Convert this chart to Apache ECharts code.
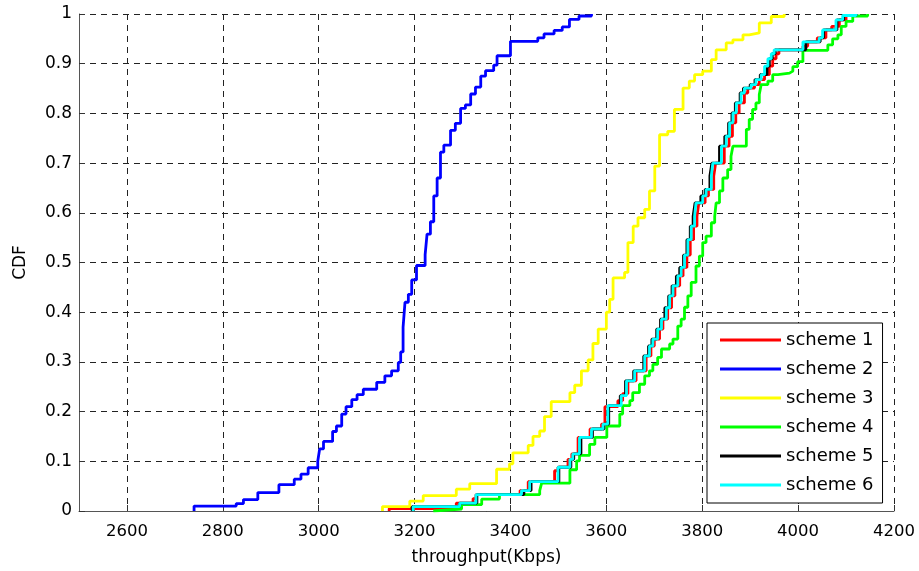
<!DOCTYPE html>
<html>
<head>
<meta charset="utf-8">
<script src="https://cdn.jsdelivr.net/npm/echarts@6/dist/echarts.min.js"></script>
<style>
  html, body { margin: 0; padding: 0; background: #fff; }
  #chart { width: 919px; height: 571px; }
</style>
</head>
<body>
<div id="chart"></div>
<script>
// ---- data (throughput Kbps, CDF) ----
const seriesNames = ['scheme 1', 'scheme 2', 'scheme 3', 'scheme 4', 'scheme 5', 'scheme 6'];
const xTicks = [2600, 2800, 3000, 3200, 3400, 3600, 3800, 4000, 4200];
const yTicks = [0, 0.1, 0.2, 0.3, 0.4, 0.5, 0.6, 0.7, 0.8, 0.9, 1];

const scheme1 = [[3147,0],[3147,0.005],[3287,0.016],[3322,0.025],[3328,0.033],[3420,0.041],[3437,0.059],[3492,0.081],[3499,0.088],[3520,0.104],[3528,0.115],[3541,0.148],[3566,0.165],[3590,0.175],[3597,0.21],[3624,0.222],[3634,0.236],[3645,0.262],[3662,0.282],[3683,0.312],[3693,0.332],[3700,0.346],[3711,0.366],[3718,0.386],[3728,0.409],[3736,0.433],[3743,0.453],[3753,0.473],[3760,0.49],[3768,0.515],[3775,0.546],[3782,0.573],[3789,0.593],[3793,0.62],[3806,0.634],[3813,0.647],[3824,0.674],[3828,0.70],[3846,0.734],[3856,0.754],[3863,0.781],[3870,0.801],[3877,0.821],[3888,0.841],[3895,0.851],[3909,0.858],[3919,0.868],[3930,0.878],[3940,0.895],[3947,0.91],[3954,0.92],[3960,0.928],[4010,0.935],[4020,0.944],[4040,0.952],[4058,0.968],[4070,0.975],[4086,0.988],[4100,0.997],[4121,1]];

const scheme2 = [[2740,0],[2740,0.01],[2828,0.015],[2843,0.023],[2873,0.037],[2917,0.053],[2949,0.064],[2963,0.074],[2978,0.087],[2998,0.1],[3002,0.125],[3010,0.14],[3029,0.16],[3037,0.171],[3048,0.195],[3057,0.21],[3069,0.224],[3080,0.234],[3093,0.245],[3121,0.259],[3138,0.272],[3152,0.282],[3166,0.299],[3171,0.32],[3176,0.37],[3180,0.42],[3187,0.436],[3194,0.465],[3204,0.494],[3222,0.516],[3226,0.557],[3233,0.582],[3240,0.634],[3247,0.67],[3254,0.722],[3261,0.736],[3275,0.766],[3285,0.78],[3296,0.81],[3306,0.817],[3317,0.839],[3327,0.853],[3338,0.875],[3348,0.886],[3365,0.897],[3372,0.916],[3400,0.945],[3457,0.952],[3470,0.96],[3491,0.967],[3508,0.974],[3523,0.989],[3543,0.996],[3569,1]];

const scheme3 = [[3133,0],[3133,0.009],[3190,0.02],[3218,0.031],[3287,0.044],[3315,0.055],[3371,0.084],[3398,0.095],[3405,0.117],[3437,0.132],[3447,0.15],[3461,0.161],[3471,0.19],[3485,0.22],[3524,0.238],[3534,0.253],[3548,0.282],[3562,0.304],[3572,0.337],[3583,0.366],[3600,0.4],[3607,0.426],[3614,0.469],[3638,0.48],[3645,0.54],[3656,0.573],[3666,0.59],[3680,0.607],[3690,0.644],[3701,0.694],[3711,0.757],[3728,0.764],[3742,0.808],[3760,0.851],[3773,0.865],[3784,0.878],[3801,0.885],[3819,0.908],[3829,0.928],[3850,0.942],[3864,0.948],[3885,0.958],[3898,0.962],[3919,0.982],[3944,0.995],[3971,1]];

const scheme4 = [[3239,0],[3239,0.004],[3298,0.013],[3340,0.024],[3377,0.033],[3461,0.041],[3465,0.056],[3524,0.083],[3538,0.101],[3544,0.112],[3565,0.134],[3576,0.148],[3601,0.171],[3628,0.195],[3634,0.212],[3649,0.222],[3655,0.238],[3669,0.255],[3680,0.272],[3690,0.282],[3697,0.295],[3707,0.309],[3715,0.326],[3732,0.336],[3739,0.346],[3749,0.372],[3756,0.386],[3763,0.41],[3770,0.433],[3777,0.46],[3787,0.493],[3794,0.513],[3801,0.54],[3808,0.553],[3819,0.58],[3826,0.593],[3829,0.62],[3836,0.644],[3843,0.67],[3853,0.687],[3860,0.714],[3864,0.734],[3892,0.768],[3898,0.788],[3905,0.808],[3912,0.821],[3919,0.838],[3923,0.858],[3937,0.865],[3947,0.878],[3958,0.881],[3982,0.885],[3989,0.894],[3999,0.904],[4010,0.927],[4062,0.938],[4072,0.95],[4083,0.958],[4090,0.975],[4100,0.985],[4114,0.996],[4145,1]];

const scheme5 = [[3195,0],[3195,0.009],[3294,0.016],[3330,0.033],[3428,0.041],[3443,0.059],[3501,0.088],[3526,0.104],[3532,0.115],[3547,0.148],[3571,0.165],[3595,0.175],[3605,0.212],[3629,0.232],[3640,0.262],[3657,0.282],[3678,0.312],[3688,0.332],[3695,0.346],[3705,0.366],[3713,0.386],[3722,0.409],[3730,0.433],[3737,0.453],[3746,0.473],[3753,0.49],[3761,0.515],[3768,0.546],[3775,0.573],[3781,0.593],[3785,0.62],[3797,0.634],[3806,0.647],[3816,0.674],[3820,0.70],[3836,0.734],[3847,0.754],[3855,0.781],[3862,0.801],[3869,0.821],[3879,0.841],[3886,0.851],[3900,0.858],[3910,0.868],[3921,0.878],[3935,0.895],[3940,0.91],[3946,0.92],[3952,0.928],[4016,0.944],[4046,0.952],[4053,0.968],[4081,0.988],[4095,0.997],[4121,1]];

const scheme6 = [[3197,0],[3197,0.009],[3294,0.016],[3328,0.033],[3423,0.041],[3440,0.059],[3499,0.088],[3524,0.104],[3530,0.115],[3544,0.148],[3569,0.165],[3593,0.175],[3603,0.212],[3631,0.232],[3642,0.262],[3659,0.282],[3680,0.312],[3690,0.332],[3697,0.346],[3707,0.366],[3715,0.386],[3725,0.409],[3732,0.433],[3739,0.453],[3749,0.473],[3756,0.49],[3763,0.515],[3770,0.546],[3777,0.573],[3784,0.593],[3787,0.62],[3801,0.634],[3808,0.647],[3819,0.674],[3822,0.70],[3840,0.734],[3850,0.754],[3857,0.781],[3864,0.801],[3871,0.821],[3881,0.841],[3888,0.851],[3902,0.858],[3912,0.868],[3923,0.878],[3930,0.895],[3937,0.91],[3944,0.92],[3950,0.928],[4010,0.944],[4044,0.952],[4051,0.968],[4079,0.988],[4093,0.997],[4121,1]];

const seriesData = [scheme1, scheme2, scheme3, scheme4, scheme5, scheme6];
const seriesColors = ['#ff0000', '#0000ff', '#ffff00', '#00ff00', '#000000', '#00ffff'];

const FONT = 'DejaVu Sans';
const chart = echarts.init(document.getElementById('chart'), null, { renderer: 'canvas' });

const gridLine = { show: true, lineStyle: { type: [6, 5], color: '#222', width: 1 } };

chart.setOption({
  animation: false,
  backgroundColor: '#fff',
  grid: { left: 79, right: 25, top: 14, bottom: 59, containLabel: false },
  xAxis: {
    type: 'value', min: 2500, max: 4200,
    name: 'throughput(Kbps)', nameLocation: 'middle', nameGap: 38,
    nameTextStyle: { fontFamily: FONT, fontSize: 17, color: '#000' },
    axisLine: { show: true, onZero: false, lineStyle: { color: '#555', width: 1 } },
    axisTick: { show: true, inside: true, length: 6, customValues: xTicks, lineStyle: { color: '#333' } },
    axisLabel: { customValues: xTicks, fontFamily: FONT, fontSize: 16.5, color: '#000', margin: 12,
                 formatter: v => String(v) },
    splitLine: gridLine
  },
  yAxis: {
    type: 'value', min: 0, max: 1, interval: 0.1,
    name: 'CDF', nameLocation: 'middle', nameGap: 50,
    nameTextStyle: { fontFamily: FONT, fontSize: 17, color: '#000' },
    axisLine: { show: true, onZero: false, lineStyle: { color: '#555', width: 1 } },
    axisTick: { show: true, inside: true, length: 6, lineStyle: { color: '#333' } },
    axisLabel: { customValues: yTicks, fontFamily: FONT, fontSize: 17, color: '#000', margin: 7,
                 formatter: v => String(+v.toFixed(1)) },
    splitLine: gridLine
  },
  legend: {
    orient: 'vertical', left: 707, top: 323,
    padding: [8, 9, 9, 13], itemGap: 11,
    itemWidth: 61, itemHeight: 3, icon: 'rect',
    backgroundColor: '#fff', borderColor: '#000', borderWidth: 1,
    textStyle: { fontFamily: FONT, fontSize: 18, color: '#000', lineHeight: 18 },
    data: seriesNames
  },
  series: seriesNames.map((name, i) => ({
    name: name, type: 'line', step: 'end',
    data: seriesData[i], showSymbol: false, symbol: 'none',
    color: seriesColors[i],
    lineStyle: { width: 2.8, color: seriesColors[i] },
    emphasis: { disabled: true }
  }))
});
</script>
</body>
</html>
